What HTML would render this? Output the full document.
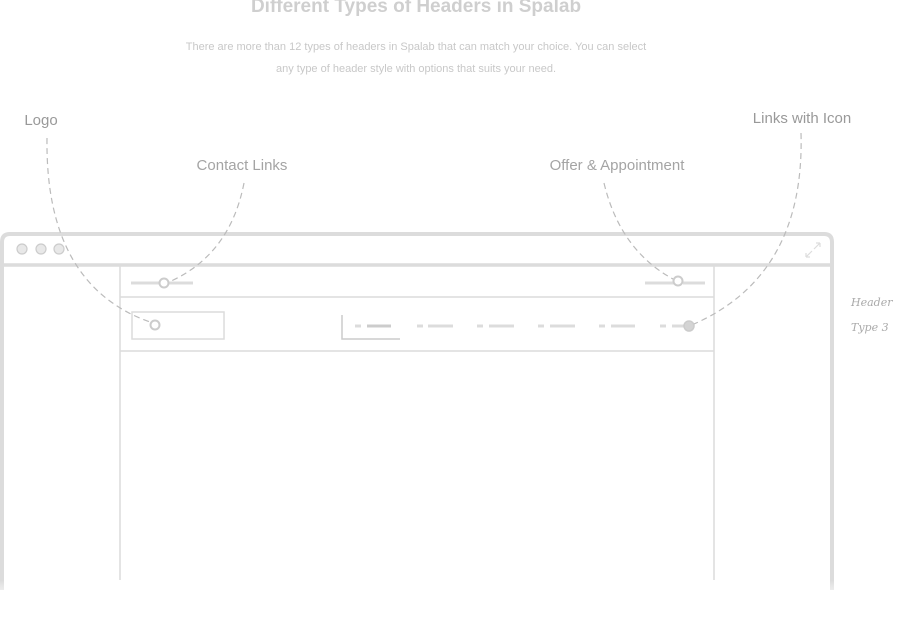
<!DOCTYPE html>
<html><head><meta charset="utf-8"><style>
html,body{margin:0;padding:0;background:#fff;width:900px;height:623px;overflow:hidden}
svg{display:block}
</style></head><body>
<svg width="900" height="623" viewBox="0 0 900 623" xmlns="http://www.w3.org/2000/svg">
<defs>
<linearGradient id="fade" x1="0" y1="0" x2="0" y2="1">
<stop offset="0.8" stop-color="#fff" stop-opacity="0"/>
<stop offset="1" stop-color="#fff" stop-opacity="1"/>
</linearGradient>
</defs>
<g font-family="'Liberation Sans',sans-serif" text-anchor="middle">
<text x="416" y="12" font-size="19" font-weight="bold" fill="#cfcfcf">Different Types of Headers in Spalab</text>
<text x="416" y="50" font-size="11" fill="#c8c8c8">There are more than 12 types of headers in Spalab that can match your choice. You can select</text>
<text x="416" y="72" font-size="11" fill="#c8c8c8">any type of header style with options that suits your need.</text>
<text x="41" y="125" font-size="15" fill="#999">Logo</text>
<text x="802" y="123" font-size="15" fill="#999">Links with Icon</text>
<text x="242" y="170" font-size="15" fill="#a4a4a4">Contact Links</text>
<text x="617" y="170" font-size="15" fill="#a4a4a4">Offer &amp; Appointment</text>
</g>
<g font-family="'DejaVu Serif',serif" font-style="italic" font-size="11" fill="#aaa">
<text x="851" y="306">Header</text>
<text x="851" y="331">Type 3</text>
</g>
<g fill="none" stroke="#dcdcdc">
<path d="M2 590 V242 Q2 234 10 234 H824 Q832 234 832 242 V590" stroke-width="4"/>
<line x1="2" y1="265" x2="832" y2="265" stroke-width="3.5"/>
<line x1="120" y1="266" x2="120" y2="580" stroke-width="1.5"/>
<line x1="714" y1="266" x2="714" y2="580" stroke-width="1.5"/>
<line x1="120" y1="297" x2="714" y2="297" stroke-width="1.5"/>
<line x1="120" y1="351" x2="714" y2="351" stroke-width="1.5"/>
<rect x="132" y="312" width="92" height="27" stroke-width="1.5"/>
<path d="M342 315 V339 H400" stroke="#ccc" stroke-width="1.5"/>
</g>
<rect x="0" y="500" width="900" height="100" fill="url(#fade)"/>
<g stroke="#ccc" stroke-width="1.2" fill="#e8e8e8">
<circle cx="22" cy="249" r="5"/><circle cx="41" cy="249" r="5"/><circle cx="59" cy="249" r="5"/>
</g>
<g stroke="#ddd" stroke-width="1.2" fill="none">
<path d="M806 257 L812 251 M806 257 V253 M806 257 H810 M820 243 L814 249 M820 243 H816 M820 243 V247"/>
</g>
<g stroke="#dcdcdc" stroke-width="3">
<line x1="131" y1="283" x2="160" y2="283"/><line x1="169" y1="283" x2="193" y2="283"/>
<line x1="645" y1="283" x2="674" y2="283"/><line x1="683" y1="283" x2="705" y2="283"/>
<line x1="355" y1="326" x2="361" y2="326"/><line x1="367" y1="326" x2="391" y2="326" stroke="#ccc"/>
<line x1="417" y1="326" x2="423" y2="326"/><line x1="428" y1="326" x2="453" y2="326"/>
<line x1="477" y1="326" x2="483" y2="326"/><line x1="489" y1="326" x2="514" y2="326"/>
<line x1="538" y1="326" x2="544" y2="326"/><line x1="550" y1="326" x2="575" y2="326"/>
<line x1="599" y1="326" x2="605" y2="326"/><line x1="611" y1="326" x2="635" y2="326"/>
<line x1="660" y1="326" x2="666" y2="326"/><line x1="672" y1="326" x2="686" y2="326"/>
</g>
<g fill="#fff" stroke="#ccc" stroke-width="2">
<circle cx="164" cy="283" r="4.5"/><circle cx="678" cy="281" r="4.5"/><circle cx="155" cy="325" r="4.5"/>
</g>
<circle cx="689" cy="326" r="5" fill="#d4d4d4" stroke="#ccc" stroke-width="1.5"/>
<g fill="none" stroke="#bbb" stroke-width="1.2" stroke-dasharray="6 4">
<path d="M47 138 Q45 285 150 322"/>
<path d="M244 183 Q230 255 169 282"/>
<path d="M604 183 Q620 250 673 279"/>
<path d="M801 133 Q805 275 694 324"/>
</g>
</svg>
</body></html>
